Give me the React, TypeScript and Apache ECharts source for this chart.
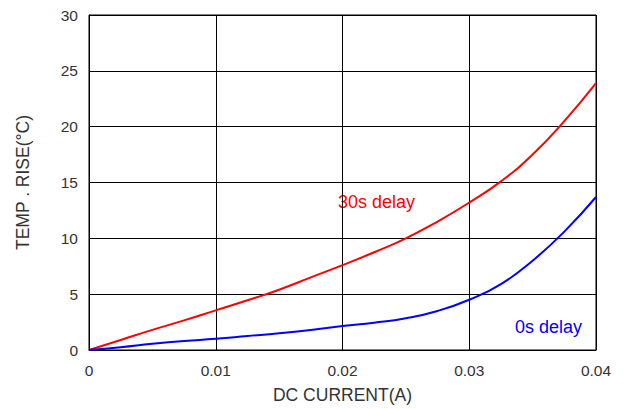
import React, { useEffect, useRef } from "react";
import * as echarts from "echarts";

const current = [0, 0.0025, 0.005, 0.0075, 0.01, 0.0125, 0.015, 0.0175, 0.02, 0.0225, 0.025, 0.0275, 0.03, 0.0325, 0.035, 0.0375, 0.04];
const delay30s = [0, 0.9, 1.8, 2.65, 3.55, 4.45, 5.4, 6.5, 7.6, 8.75, 10.0, 11.5, 13.2, 15.1, 17.5, 20.5, 23.9];
const delay0s = [0, 0.25, 0.55, 0.8, 1.0, 1.25, 1.5, 1.8, 2.15, 2.45, 2.85, 3.5, 4.5, 5.9, 8.0, 10.6, 13.7];
const xTicks = [0, 0.01, 0.02, 0.03, 0.04];
const yTicks = [0, 5, 10, 15, 20, 25, 30];

export default function App() {
  const ref = useRef<HTMLDivElement>(null);
  useEffect(() => {
    if (!ref.current) return;
    const chart = echarts.init(ref.current, undefined, { renderer: "svg" });
    const font = "Liberation Sans, Arial, sans-serif";
    chart.setOption({
      animation: false,
      backgroundColor: "#fff",
      grid: {
        left: 89,
        top: 15,
        width: 507,
        height: 335,
        show: true,
        borderColor: "#000",
        borderWidth: 1,
        containLabel: false,
      },
      xAxis: {
        type: "value",
        min: xTicks[0],
        max: xTicks[xTicks.length - 1],
        interval: 0.01,
        name: "DC CURRENT(A)",
        nameLocation: "middle",
        nameGap: 36,
        nameTextStyle: { color: "#333", fontSize: 17.5, fontFamily: font },
        axisLine: { lineStyle: { color: "#000", width: 1 } },
        axisTick: { show: false },
        axisLabel: {
          color: "#333",
          fontSize: 15.5,
          fontFamily: font,
          margin: 12,
          formatter: (v: number) => (v === 0 ? "0" : String(+v.toFixed(2))),
        },
        splitLine: { show: true, lineStyle: { color: "#000", width: 1 } },
      },
      yAxis: {
        type: "value",
        min: yTicks[0],
        max: yTicks[yTicks.length - 1],
        interval: 5,
        name: "TEMP . RISE(°C)",
        nameLocation: "middle",
        nameGap: 57,
        nameTextStyle: { color: "#333", fontSize: 17.5, fontFamily: font },
        axisLine: { lineStyle: { color: "#000", width: 1 } },
        axisTick: { show: false },
        axisLabel: { color: "#333", fontSize: 15.5, fontFamily: font, margin: 11 },
        splitLine: { show: true, lineStyle: { color: "#000", width: 1 } },
      },
      series: [
        {
          name: "30s delay",
          type: "line",
          data: current.map((x, i) => [x, delay30s[i]]),
          smooth: true,
          showSymbol: false,
          lineStyle: { color: "#ff0000", width: 2 },
          itemStyle: { color: "#ff0000" },
        },
        {
          name: "0s delay",
          type: "line",
          data: current.map((x, i) => [x, delay0s[i]]),
          smooth: true,
          showSymbol: false,
          lineStyle: { color: "#0000ff", width: 2 },
          itemStyle: { color: "#0000ff" },
        },
      ],
      graphic: [
        {
          type: "text",
          left: 338,
          top: 193,
          style: { text: "30s delay", fill: "#ff0000", fontSize: 18, fontFamily: font },
        },
        {
          type: "text",
          left: 515,
          top: 318,
          style: { text: "0s delay", fill: "#0000ff", fontSize: 18, fontFamily: font },
        },
      ],
    });
    return () => chart.dispose();
  }, []);
  return (
    <div
      ref={ref}
      style={{ position: "fixed", left: 0, top: 0, width: 628, height: 409 }}
    />
  );
}
